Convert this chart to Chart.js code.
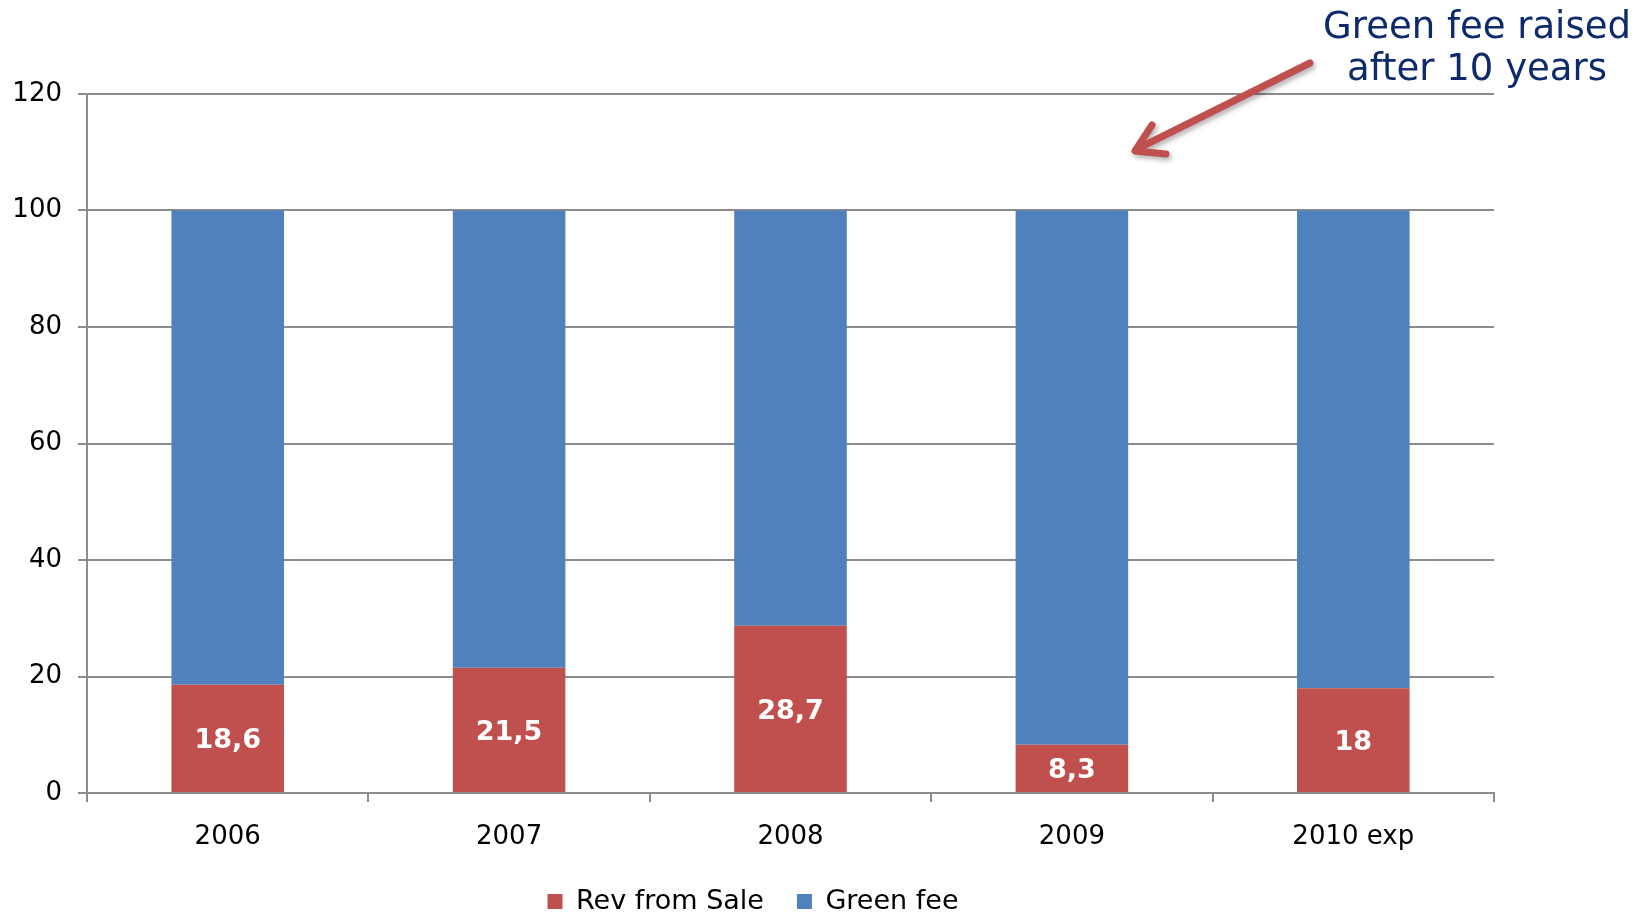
<!DOCTYPE html>
<html>
<head>
<meta charset="utf-8">
<script src="https://cdn.jsdelivr.net/npm/chart.js@4"></script>
<style>
  html, body { margin: 0; padding: 0; background: #fff; overflow: hidden; }
  canvas { display: block; }
</style>
</head>
<body>
<!-- canvas runs a little past the 914px window so the legend sits low like the original -->
<canvas id="chart" width="1648" height="925"></canvas>
<script>
// values
const years = ['2006', '2007', '2008', '2009', '2010 exp'];
const revFromSale = [18.6, 21.5, 28.7, 8.3, 18];
const greenFee = [81.4, 78.5, 71.3, 91.7, 82];
const yMin = 0;
const yMax = 120;
const yStep = 20;

const red = '#C0504D';
const blue = '#4F81BD';
const gridGrey = '#8c8c8c';

// white labels inside the red bars, decimal comma
const barLabels = {
    id: 'barLabels',
    afterDatasetsDraw(chart) {
        const ctx = chart.ctx;
        const meta = chart.getDatasetMeta(0);
        ctx.save();
        ctx.fillStyle = '#fff';
        ctx.font = 'bold 27px "DejaVu Sans"';
        ctx.textAlign = 'center';
        ctx.textBaseline = 'middle';
        meta.data.forEach((bar, i) => {
            const txt = String(revFromSale[i]).replace('.', ',');
            ctx.fillText(txt, bar.x, (bar.y + bar.base) / 2 + 3);
        });
        ctx.restore();
    }
};

// the note with the arrow, top right
const note = {
    id: 'note',
    afterDraw(chart) {
        const ctx = chart.ctx;
        ctx.save();
        ctx.fillStyle = '#0D2A6B';
        ctx.font = '37px "DejaVu Sans"';
        ctx.textAlign = 'center';
        ctx.textBaseline = 'alphabetic';
        ctx.fillText('Green fee raised', 1477, 38);
        ctx.fillText('after 10 years', 1477, 80);

        ctx.strokeStyle = red;
        ctx.lineWidth = 7;
        ctx.lineCap = 'round';
        ctx.lineJoin = 'round';
        ctx.shadowColor = 'rgba(0,0,0,0.3)';
        ctx.shadowBlur = 5;
        ctx.shadowOffsetX = 2;
        ctx.shadowOffsetY = 3;
        ctx.beginPath();
        ctx.moveTo(1310, 63);
        ctx.lineTo(1139, 148);
        ctx.moveTo(1152, 125);
        ctx.lineTo(1135, 151);
        ctx.lineTo(1166, 154);
        ctx.stroke();
        ctx.restore();
    }
};

const ctx = document.getElementById('chart').getContext('2d');
const myChart = new Chart(ctx, {
    type: 'bar',
    data: {
        labels: years,
        datasets: [{
            label: 'Rev from Sale',
            data: revFromSale,
            backgroundColor: red,
            borderWidth: 0
        }, {
            label: 'Green fee',
            data: greenFee,
            backgroundColor: blue,
            borderWidth: 0
        }]
    },
    options: {
        responsive: false,
        animation: false,
        layout: {
            padding: { top: 94, right: 154, bottom: 0, left: 12 }
        },
        datasets: {
            bar: { categoryPercentage: 1, barPercentage: 0.4 }
        },
        plugins: {
            legend: {
                position: 'bottom',
                labels: {
                    color: '#000',
                    font: { family: '"DejaVu Sans"', size: 27 },
                    boxWidth: 15,
                    boxHeight: 15,
                    padding: 33
                }
            },
            tooltip: { enabled: false }
        },
        scales: {
            x: {
                stacked: true,
                afterFit: function(scale) { scale.height = 62; },
                grid: {
                    drawOnChartArea: false,
                    drawTicks: true,
                    tickLength: 9,
                    color: gridGrey,
                    lineWidth: 2
                },
                border: { display: true, color: gridGrey, width: 2 },
                ticks: {
                    color: '#000',
                    font: { family: '"DejaVu Sans"', size: 26 },
                    padding: 20
                }
            },
            y: {
                stacked: true,
                min: yMin,
                max: yMax,
                afterFit: function(scale) { scale.width = 75; },
                grid: {
                    color: gridGrey,
                    lineWidth: 2,
                    tickLength: 9
                },
                border: { display: true, color: gridGrey, width: 2 },
                ticks: {
                    stepSize: yStep,
                    color: '#000',
                    font: { family: '"DejaVu Sans"', size: 26 },
                    padding: 16
                }
            }
        }
    },
    plugins: [barLabels, note]
});
</script>
</body>
</html>
